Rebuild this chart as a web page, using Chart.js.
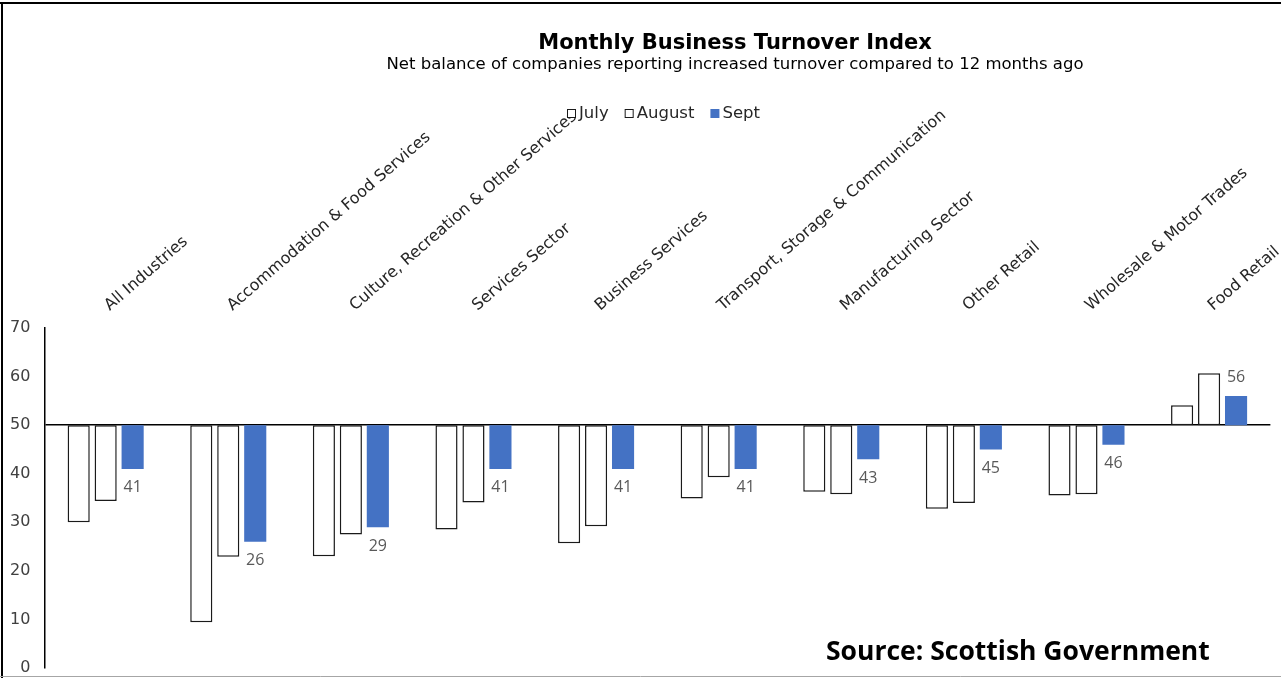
<!DOCTYPE html>
<html>
<head>
<meta charset="utf-8">
<title>Monthly Business Turnover Index</title>
<script src="https://cdn.jsdelivr.net/npm/chart.js@4.4.1/dist/chart.umd.min.js"></script>
<style>
  html, body { margin: 0; padding: 0; background: #fff; }
  #wrap { position: relative; width: 1281px; height: 678px; }
</style>
</head>
<body>
<div id="wrap"><canvas id="turnover"></canvas></div>
<script>
// categories along the (top) axis
var categories = [
  'All Industries',
  'Accommodation & Food Services',
  'Culture, Recreation & Other Services',
  'Services Sector',
  'Business Services',
  'Transport, Storage & Communication',
  'Manufacturing Sector',
  'Other Retail',
  'Wholesale & Motor Trades',
  'Food Retail'
];

// net balance index, bars hang from 50
var july   = [30, 9.4, 23, 28.5, 25.7, 34.9, 36.3, 32.8, 35.5, 54.1];
var august = [34.4, 22.9, 27.5, 34.1, 29.2, 39.3, 35.8, 34, 35.8, 60.7];
var sept   = [41, 26, 29, 41, 41, 41, 43, 45, 46, 56];
var baseline = 50;

var titleText = 'Monthly Business Turnover Index';
var subtitleText = 'Net balance of companies reporting increased turnover compared to 12 months ago';
var sourceText = 'Source: Scottish Government';

function fromBase(values) {
  return values.map(function (v) { return [baseline, v]; });
}

// titles, legend, value labels and frame
var decorations = {
  id: 'decorations',
  afterDraw: function (chart) {
    var ctx = chart.ctx;
    var yScale = chart.scales.y;
    ctx.save();

    // frame of the cropped slide
    ctx.strokeStyle = '#000';
    ctx.lineWidth = 2;
    ctx.beginPath();
    ctx.moveTo(0, 3); ctx.lineTo(chart.width, 3);
    ctx.moveTo(2, 3); ctx.lineTo(2, chart.height);
    ctx.stroke();
    ctx.strokeStyle = '#a6a6a6';
    ctx.lineWidth = 1;
    ctx.beginPath();
    ctx.moveTo(0, chart.height - 1.5); ctx.lineTo(chart.width, chart.height - 1.5);
    ctx.stroke();

    // title + subtitle
    ctx.fillStyle = '#000';
    ctx.textAlign = 'center';
    ctx.textBaseline = 'alphabetic';
    ctx.font = 'bold 21px "DejaVu Sans"';
    ctx.fillText(titleText, 735, 49);
    ctx.font = '16.5px "DejaVu Sans"';
    ctx.fillText(subtitleText, 735, 69);

    // legend
    var x = 567;
    ctx.font = '16.5px "DejaVu Sans"';
    ctx.textAlign = 'left';
    ctx.textBaseline = 'middle';
    chart.data.datasets.forEach(function (ds) {
      ctx.fillStyle = ds.backgroundColor;
      ctx.fillRect(x, 109, 9, 9);
      if (ds.borderWidth) {
        ctx.strokeStyle = ds.borderColor;
        ctx.lineWidth = 1;
        ctx.strokeRect(x + 0.5, 109.5, 8, 8);
      }
      ctx.fillStyle = '#262626';
      ctx.fillText(ds.label, x + 12, 114);
      x += 12 + ctx.measureText(ds.label).width + 16;
    });

    // Sept value labels
    var meta = chart.getDatasetMeta(2);
    ctx.font = '16px "Open Sans"';
    ctx.fillStyle = '#595959';
    ctx.textAlign = 'center';
    meta.data.forEach(function (bar, i) {
      var v = sept[i];
      var y = yScale.getPixelForValue(v) + (v < baseline ? 19 : -19);
      ctx.fillText(String(v), bar.x, y);
    });

    // source note
    ctx.font = 'bold 26.5px "Open Sans"';
    ctx.fillStyle = '#000';
    ctx.textAlign = 'left';
    ctx.textBaseline = 'alphabetic';
    ctx.fillText(sourceText, 826, 660);

    ctx.restore();
  }
};

var turnoverChart = new Chart(document.getElementById('turnover'), {
  type: 'bar',
  data: {
    labels: categories,
    datasets: [{
      label: 'July',
      data: fromBase(july),
      backgroundColor: '#ffffff',
      borderColor: '#1a1a1a',
      borderWidth: 1.5,
      borderSkipped: false
    }, {
      label: 'August',
      data: fromBase(august),
      backgroundColor: '#ffffff',
      borderColor: '#1a1a1a',
      borderWidth: 1.5,
      borderSkipped: false
    }, {
      label: 'Sept',
      data: fromBase(sept),
      backgroundColor: '#4472C4',
      borderWidth: 0
    }]
  },
  options: {
    responsive: true,
    maintainAspectRatio: false,
    animation: false,
    categoryPercentage: 0.66,
    barPercentage: 0.82,
    layout: {
      autoPadding: false,
      padding: { top: 101, left: 10, right: -5, bottom: 10 }
    },
    plugins: {
      legend: { display: false },
      title: { display: false },
      tooltip: { enabled: false }
    },
    scales: {
      x: {
        position: 'top',
        offset: true,
        grid: { display: false },
        border: { display: false },
        ticks: {
          autoSkip: false,
          minRotation: 41,
          maxRotation: 41,
          padding: 5,
          labelOffset: 14,
          color: '#262626',
          font: { family: 'DejaVu Sans', size: 16 }
        }
      },
      y: {
        min: 0,
        max: 70,
        ticks: {
          stepSize: 10,
          padding: 0,
          color: '#404040',
          font: { family: 'DejaVu Sans', size: 16 }
        },
        grid: {
          drawTicks: true,
          tickLength: 14,
          tickColor: 'rgba(0,0,0,0)',
          lineWidth: 1.5,
          color: function (c) {
            return c.tick && c.tick.value === baseline ? '#000' : 'rgba(0,0,0,0)';
          }
        },
        border: { display: true, color: '#000', width: 1.5 }
      }
    }
  },
  plugins: [decorations]
});
</script>
</body>
</html>
